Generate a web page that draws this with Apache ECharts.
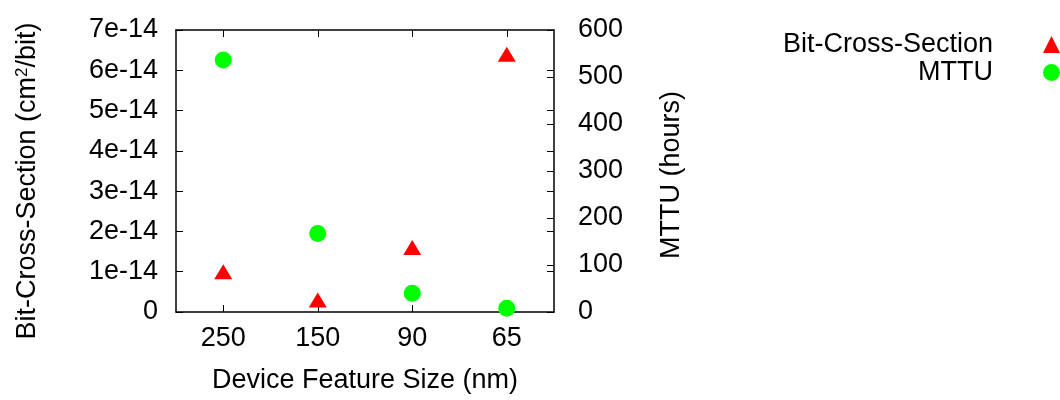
<!DOCTYPE html>
<html>
<head>
<meta charset="utf-8">
<script src="https://cdn.jsdelivr.net/npm/echarts@6/dist/echarts.min.js"></script>
<style>
  html, body { margin: 0; padding: 0; background: #fff; }
  #main { width: 1060px; height: 400px; }
</style>
</head>
<body>
<div id="main"></div>
<script>
// 数据
var sizes = ['250', '150', '90', '65'];
var crossSection = [1.0e-14, 0.3e-14, 1.6e-14, 6.4e-14];
var mttu = [536, 167, 40, 8];
var leftTicks = { min: 0, max: 7e-14, step: 1e-14 };
var rightTicks = { min: 0, max: 600, step: 100 };

var font = 'Liberation Sans, Arial, sans-serif';
var black = '#000';
var fs = 27;

var myChart = echarts.init(document.getElementById('main'));

function fmtLeft(v) {
	if (v === 0) return '0';
	return Math.round(v / 1e-14) + 'e-14';
}

var tick = { show: true, inside: true, length: 7, lineStyle: { color: black } };
var line = { show: true, onZero: false, lineStyle: { color: black, width: 1.5 } };

myChart.setOption({
	animation: false,
	textStyle: { fontFamily: font },
	grid: { left: 176, right: 506, top: 30, bottom: 88 },
	legend: {
		orient: 'vertical',
		right: 0,
		top: 31,
		padding: 0,
		align: 'right',
		itemWidth: 17,
		itemHeight: 17,
		itemGap: 1,
		textStyle: { fontSize: fs, lineHeight: 27, color: black, fontFamily: font, padding: [0, 45, 0, 0] },
		data: ['Bit-Cross-Section', 'MTTU']
	},
	xAxis: [{
		type: 'category',
		data: sizes,
		position: 'bottom',
		name: 'Device Feature Size (nm)',
		nameLocation: 'middle',
		nameGap: 55,
		nameTextStyle: { fontSize: fs, color: black },
		axisLine: line,
		axisTick: Object.assign({ alignWithLabel: true }, tick),
		axisLabel: { fontSize: fs, color: black, margin: 13 }
	}, {
		type: 'category',
		data: sizes,
		position: 'top',
		axisLine: line,
		axisTick: Object.assign({ alignWithLabel: true }, tick),
		axisLabel: { show: false }
	}],
	yAxis: [{
		type: 'value',
		position: 'left',
		min: leftTicks.min,
		max: leftTicks.max,
		interval: leftTicks.step,
		name: 'Bit-Cross-Section (cm{sup|2}/bit)',
		nameLocation: 'middle',
		nameGap: 135,
		nameTextStyle: {
			fontSize: fs, color: black, padding: [0, 20, 0, 0],
			rich: { sup: { fontSize: 17, verticalAlign: 'top', color: black, padding: [0, 0, 10, 0] } }
		},
		splitLine: { show: false },
		axisLine: line,
		axisTick: tick,
		axisLabel: { fontSize: fs, color: black, margin: 18, formatter: fmtLeft }
	}, {
		type: 'value',
		position: 'right',
		min: rightTicks.min,
		max: rightTicks.max,
		interval: rightTicks.step,
		name: 'MTTU (hours)',
		nameLocation: 'middle',
		nameGap: 104,
		nameTextStyle: { fontSize: fs, color: black, padding: [0, 8, 0, 0] },
		splitLine: { show: false },
		axisLine: line,
		axisTick: tick,
		axisLabel: { fontSize: fs, color: black, margin: 24 }
	}, {
		// 右侧镜像刻度
		type: 'value',
		position: 'right',
		min: leftTicks.min,
		max: leftTicks.max,
		interval: leftTicks.step,
		splitLine: { show: false },
		axisLine: { show: false },
		axisTick: tick,
		axisLabel: { show: false }
	}],
	series: [{
		name: 'Bit-Cross-Section',
		type: 'scatter',
		yAxisIndex: 0,
		symbol: 'triangle',
		symbolSize: [18, 15],
		itemStyle: { color: '#ff0000', opacity: 1 },
		data: crossSection
	}, {
		name: 'MTTU',
		type: 'scatter',
		yAxisIndex: 1,
		symbol: 'circle',
		symbolSize: 17,
		itemStyle: { color: '#00ff00', opacity: 1 },
		data: mttu
	}]
});
</script>
</body>
</html>
